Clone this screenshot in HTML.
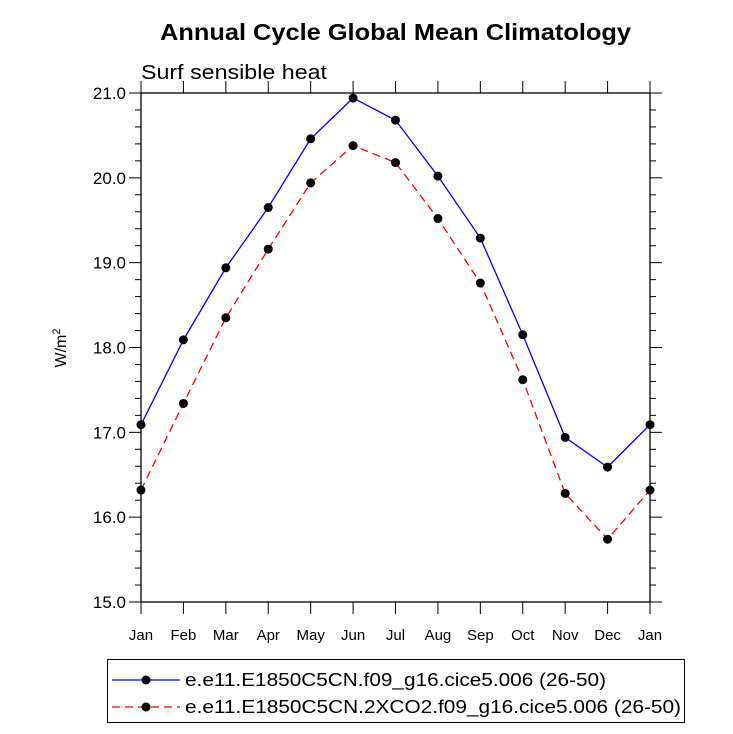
<!DOCTYPE html>
<html><head><meta charset="utf-8"><style>
body{margin:0;background:#fff;}
svg{display:block;font-family:"Liberation Sans",sans-serif;}
</style></head><body>
<svg width="733" height="734">
<text x="160" y="40" font-size="23" font-weight="bold" textLength="471" lengthAdjust="spacingAndGlyphs">Annual Cycle Global Mean Climatology</text>
<text x="141" y="79" font-size="20" textLength="186" lengthAdjust="spacingAndGlyphs">Surf sensible heat</text>
<text transform="translate(66,348) rotate(-90)" text-anchor="middle" font-size="16">W/m<tspan dy="-6" font-size="11">2</tspan></text>
<g id="axes"></g>
<g id="series"></g>
<g>
<rect x="107.5" y="659.5" width="577" height="63" fill="none" stroke="#000" stroke-width="1"/>
<g>
<line x1="112" y1="680" x2="180" y2="680" stroke="#00f" stroke-width="1.3"/>
<circle cx="146" cy="680" r="4.5" fill="#000"/>
<text x="185" y="686" font-size="18" textLength="421" lengthAdjust="spacingAndGlyphs">e.e11.E1850C5CN.f09_g16.cice5.006 (26-50)</text>
</g>
<g>
<line x1="112" y1="707" x2="180" y2="707" stroke="#f00" stroke-width="1.3" stroke-dasharray="8,5"/>
<circle cx="146" cy="707" r="4.5" fill="#000"/>
<text x="185" y="713" font-size="18" textLength="496" lengthAdjust="spacingAndGlyphs">e.e11.E1850C5CN.2XCO2.f09_g16.cice5.006 (26-50)</text>
</g>
</g>
</svg>
<script>
const months=["Jan","Feb","Mar","Apr","May","Jun","Jul","Aug","Sep","Oct","Nov","Dec","Jan"];
const controlVals=[17.09,18.09,18.94,19.65,20.46,20.94,20.68,20.02,19.29,18.15,16.94,16.59,17.09];
const co2Vals=[16.32,17.34,18.35,19.16,19.94,20.38,20.18,19.52,18.76,17.62,16.28,15.74,16.32];
const yTicks=["15.0","16.0","17.0","18.0","19.0","20.0","21.0"];
const X0=141,X1=650,Y0=602,Y1=93,YMIN=15,YMAX=21;
const NS="http://www.w3.org/2000/svg";
function xs(i){return X0+(X1-X0)*i/(months.length-1);}
function ys(v){return Y0-(v-YMIN)/(YMAX-YMIN)*(Y0-Y1);}
function mk(t,a,p){const e=document.createElementNS(NS,t);for(const k in a)e.setAttribute(k,a[k]);p.appendChild(e);return e;}
const ax=document.getElementById('axes');
const frame=mk('rect',{x:X0,y:Y1,width:X1-X0,height:Y0-Y1,fill:'none',stroke:'#000','stroke-width':1.3},ax);


for(let v=YMIN;v<=YMAX+1e-6;v+=0.2){
  const y=ys(v);const major=Math.abs(v-Math.round(v))<1e-6;const L=major?12:6;
  mk('line',{x1:X0-L,y1:y,x2:X0,y2:y,stroke:'#000','stroke-width':1},ax);
  mk('line',{x1:X1,y1:y,x2:X1+L,y2:y,stroke:'#000','stroke-width':1},ax);
}
yTicks.forEach(t=>{
  const tx=mk('text',{x:X0-15,y:ys(parseFloat(t))+6,'text-anchor':'end','font-size':17},ax);
  tx.textContent=t;
  
  
});
months.forEach((m,i)=>{
  const x=xs(i);
  mk('line',{x1:x,y1:Y0,x2:x,y2:Y0+12,stroke:'#000','stroke-width':1},ax);
  mk('line',{x1:x,y1:Y1-12,x2:x,y2:Y1,stroke:'#000','stroke-width':1},ax);
  const tx=mk('text',{x:x,y:Y0+38,'text-anchor':'middle','font-size':15},ax);
  tx.textContent=m;
  
  
});
const sg=document.getElementById('series');
function series(vals,color,dash,name){
  const g=mk('g',{},sg);
  
  
  const pts=vals.map((v,i)=>xs(i)+','+ys(v)).join(' ');
  const pl=mk('polyline',{points:pts,fill:'none',stroke:color,'stroke-width':1.3,'stroke-dasharray':dash},g);
  
  
  vals.forEach((v,i)=>{
    const c=mk('circle',{cx:xs(i),cy:ys(v),r:4.5,fill:'#000'},g);
    
    
  });
}
series(controlVals,'#00f','none','control-series');
series(co2Vals,'#f00','8,5','co2-series');
</script>
</body></html>
